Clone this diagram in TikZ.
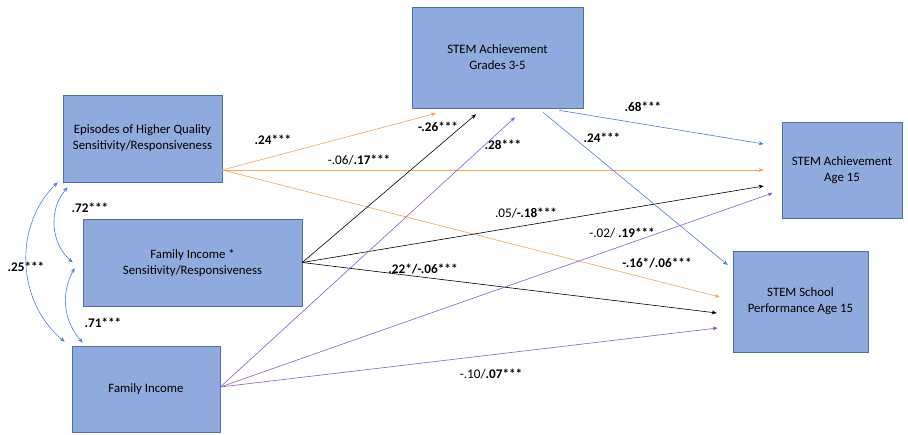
\documentclass[tikz,border=0pt]{standalone}
\usepackage{fontspec}
\setmainfont{Carlito}
\usetikzlibrary{arrows.meta,calc}
\definecolor{boxfill}{HTML}{8FAADC}
\definecolor{boxline}{HTML}{4F6FAE}
\definecolor{orangeln}{HTML}{F5A35C}
\definecolor{blueln}{HTML}{4F7FCF}
\definecolor{purpleln}{HTML}{8F5CC8}
\begin{document}
\begin{tikzpicture}[x=1pt,y=-1pt,
                font=\fontsize{12.8}{16}\selectfont,
                box/.style={rectangle,draw=boxline,fill=boxfill,line width=0.6pt,
                inner sep=0pt,align=center},
                path/.style={line width=0.6pt,-{Stealth[length=5pt,width=4pt]}},
                orangepath/.style={path,draw=orangeln,-{Stealth[length=5pt,width=4pt,fill=orangeln]}},
                blackpath/.style={path,draw=black},
                purplepath/.style={path,draw=purpleln},
                bluepath/.style={path,draw=blueln},
                corr/.style={line width=0.6pt,draw=blueln,{Stealth[length=5pt,width=4pt]}-{Stealth[length=5pt,width=4pt]}},
                coef/.style={inner sep=1pt,font=\fontsize{13.2}{16}\selectfont}]
                \useasboundingbox[fill=white] (0,0) rectangle (908,435);
                % boxes
                \node (epis) at (142.5,138.5) [box,minimum width=159pt,minimum height=87pt] {Episodes of Higher Quality\\Sensitivity/Responsiveness};
                \node (inter) at (192.5,262.5) [box,minimum width=219pt,minimum height=87pt] {Family Income *\\Sensitivity/Responsiveness};
                \node (inc) at (146,389) [box,minimum width=148pt,minimum height=86pt] {Family Income};
                \node (ach35) at (497.5,57.5) [box,minimum width=171pt,minimum height=101pt] {STEM Achievement\\Grades 3-5};
                \node (ach15) at (842,170) [box,minimum width=120pt,minimum height=96pt] {STEM Achievement\\Age 15};
                \node (perf15) at (800.5,301.5) [box,minimum width=135pt,minimum height=101pt] {STEM School\\Performance Age 15};
                % correlations
                \draw[corr] ($(epis.south west)+(-5,0)$) to[bend right=48] ($(inc.north west)+(-7,-4)$);
                \draw[corr] ($(epis.south west)+(5,5)$) to[bend right=45] ($(inter.west)+(-10,0)$);
                \draw[corr] ($(inter.west)+(-8,5.5)$) to[bend right=35] ($(inc.north west)+(11,-3)$);
                % episodes paths
                \draw[orangepath] ($(epis.east)+(0,31.5)$) -- ($(ach35.south)+(-61.5,5)$);
                \draw[orangepath] ($(epis.east)+(0,31.5)$) -- ($(ach15.west)+(-18,0)$);
                \draw[orangepath] ($(epis.east)+(0,31.5)$) -- ($(perf15.west)+(-13,-4.5)$);
                % interaction paths
                \draw[blackpath] (inter.east) -- ($(ach35.south)+(-21.5,6)$);
                \draw[blackpath] (inter.east) -- ($(ach15.west)+(-18,16)$);
                \draw[blackpath] (inter.east) -- ($(perf15.west)+(-16,11.5)$);
                % income paths
                \draw[purplepath] ($(inc.east)+(0,-2)$) -- ($(ach35.south)+(17.5,9)$);
                \draw[purplepath] ($(inc.east)+(0,-2)$) -- ($(ach15.west)+(-9,23)$);
                \draw[purplepath] ($(inc.east)+(0,-2)$) -- ($(perf15.west)+(-15,26.5)$);
                % grades 3-5 paths
                \draw[bluepath] ($(ach35.south)+(61.5,2)$) -- ($(ach15.west)+(-18,-26)$);
                \draw[bluepath] ($(ach35.south)+(45.5,4)$) -- ($(perf15.west)+(-5,-36.5)$);
                % coefficients
                \node (c25) at (26,267) [coef] {\textbf{.25***}};
                \node (c72) at (90,208) [coef] {\textbf{.72***}};
                \node (c71) at (103,323) [coef] {\textbf{.71***}};
                \node (c24a) at (273,140) [coef] {\textbf{.24***}};
                \node (c06) at (359,160) [coef] {-.06/\textbf{.17***}};
                \node (c26) at (438,127) [coef] {\textbf{-.26***}};
                \node (c28) at (503,145) [coef] {\textbf{.28***}};
                \node (c05) at (526,213) [coef] {.05/\textbf{-.18***}};
                \node (c22) at (423,269) [coef] {\textbf{.22*/-.06***}};
                \node (c68) at (643,107) [coef] {\textbf{.68***}};
                \node (c24b) at (602,138) [coef] {\textbf{.24***}};
                \node (c02) at (622,233) [coef] {-.02/ \textbf{.19***}};
                \node (c16) at (657,263) [coef] {\textbf{-.16*/.06***}};
                \node (c10) at (491,374) [coef] {-.10/\textbf{.07***}};
            \end{tikzpicture}
\end{document}
